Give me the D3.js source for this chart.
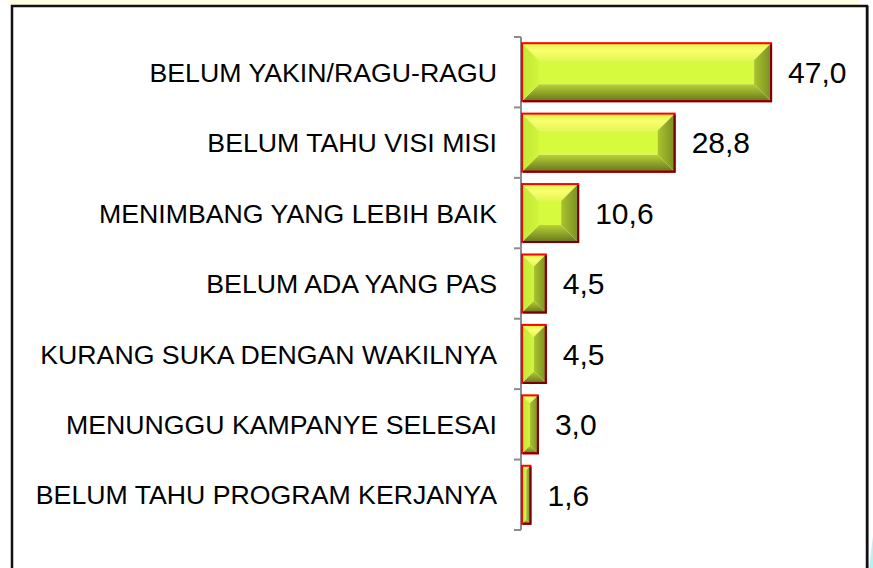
<!DOCTYPE html>
<html>
<head>
<meta charset="utf-8">
<script src="https://cdn.jsdelivr.net/npm/d3@7"></script>
<style>
  body { margin: 0; background: #fff; }
  text { font-family: "Liberation Sans", Arial, sans-serif; }
</style>
</head>
<body>
<div id="chart"></div>
<script>
const categories = [
  "BELUM YAKIN/RAGU-RAGU",
  "BELUM TAHU VISI MISI",
  "MENIMBANG YANG LEBIH BAIK",
  "BELUM ADA YANG PAS",
  "KURANG SUKA DENGAN WAKILNYA",
  "MENUNGGU KAMPANYE SELESAI",
  "BELUM TAHU PROGRAM KERJANYA"
];
const values = [47.0, 28.8, 10.6, 4.5, 4.5, 3.0, 1.6];
const valueLabels = ["47,0", "28,8", "10,6", "4,5", "4,5", "3,0", "1,6"];
const xDomain = [0, 50];

const width = 873, height = 568;

const svg = d3.select("#chart").append("svg")
  .attr("width", width)
  .attr("height", height);

// frame
svg.append("rect").attr("x", 8).attr("y", 0).attr("width", 852).attr("height", 5).attr("fill", "#fffde2");
svg.append("rect").attr("x", 13).attr("y", 7).attr("width", 855).attr("height", 600)
  .attr("fill", "none").attr("stroke", "#999").attr("stroke-width", 2);
svg.append("rect").attr("x", 12).attr("y", 6).attr("width", 855).attr("height", 600)
  .attr("fill", "#fff").attr("stroke", "#111").attr("stroke-width", 2.5);
svg.append("polygon").attr("points", "869,568 873,536 873,568").attr("fill", "#bdeef2");

const x = d3.scaleLinear().domain(xDomain).range([522, 787]);
const y = d3.scaleBand().domain(categories).range([37, 530])
  .paddingInner(0.176).paddingOuter(0.088);

const defs = svg.append("defs");
const grad = (id, x2, y2, stops) => {
  const g = defs.append("linearGradient").attr("id", id)
    .attr("x1", 0).attr("y1", 0).attr("x2", x2).attr("y2", y2);
  stops.forEach(([o, c]) => g.append("stop").attr("offset", o).attr("stop-color", c));
};
grad("gTop", 0, 1, [[0, "#e4f646"], [0.45, "#f9ff6e"], [1, "#e2f750"]]);
grad("gBot", 0, 1, [[0, "#b8d236"], [1, "#66761c"]]);
grad("gLeft", 1, 0, [[0, "#c2e834"], [1, "#d2f53c"]]);
grad("gRight", 1, 0, [[0, "#aac42e"], [1, "#7a8f22"]]);

// axis
const axisG = svg.append("g");
axisG.append("line").attr("x1", 521).attr("x2", 521)
  .attr("y1", y.range()[0]).attr("y2", y.range()[1])
  .attr("stroke", "#8c8c8c").attr("stroke-width", 2);
d3.range(categories.length + 1).forEach(i => {
  const ty = y.range()[0] + i * y.step();
  axisG.append("line").attr("x1", 514).attr("x2", 521).attr("y1", ty).attr("y2", ty)
    .attr("stroke", "#8c8c8c").attr("stroke-width", 2);
});

// bars
categories.forEach((c, i) => {
  const x0 = x(0), x1 = x(values[i]);
  const y0 = y(c), y1 = y(c) + y.bandwidth();
  const w = x1 - x0, h = y1 - y0;
  const b = Math.min(17, w / 2, h / 2);
  const g = svg.append("g");
  const pts = p => p.map(d => d.join(",")).join(" ");
  g.append("rect").attr("x", x0 + b).attr("y", y0 + b)
    .attr("width", Math.max(0, w - 2 * b)).attr("height", h - 2 * b).attr("fill", "#d6fb3c");
  g.append("polygon").attr("points", pts([[x0, y0], [x1, y0], [x1 - b, y0 + b], [x0 + b, y0 + b]])).attr("fill", "url(#gTop)");
  g.append("polygon").attr("points", pts([[x0, y1], [x1, y1], [x1 - b, y1 - b], [x0 + b, y1 - b]])).attr("fill", "url(#gBot)");
  g.append("polygon").attr("points", pts([[x0, y0], [x0 + b, y0 + b], [x0 + b, y1 - b], [x0, y1]])).attr("fill", "url(#gLeft)");
  g.append("polygon").attr("points", pts([[x1, y0], [x1 - b, y0 + b], [x1 - b, y1 - b], [x1, y1]])).attr("fill", "url(#gRight)");
  g.append("rect").attr("x", x0).attr("y", y0).attr("width", w).attr("height", h)
    .attr("fill", "none").attr("stroke", "#ff0000").attr("stroke-width", 2);
  g.append("polyline").attr("points", pts([[x1, y0 + 1], [x1, y1], [x0 + 1, y1]]))
    .attr("fill", "none").attr("stroke", "#7a0000").attr("stroke-width", 2);

  svg.append("text").attr("x", x1 + 17).attr("y", y0 + h / 2)
    .attr("dy", "0.36em").attr("font-size", 30).attr("fill", "#000")
    .text(valueLabels[i]);
  svg.append("text").attr("x", 497).attr("y", y0 + h / 2)
    .attr("dy", "0.36em").attr("text-anchor", "end").attr("font-size", 26.7).attr("fill", "#000")
    .text(c);
});
</script>
</body>
</html>
